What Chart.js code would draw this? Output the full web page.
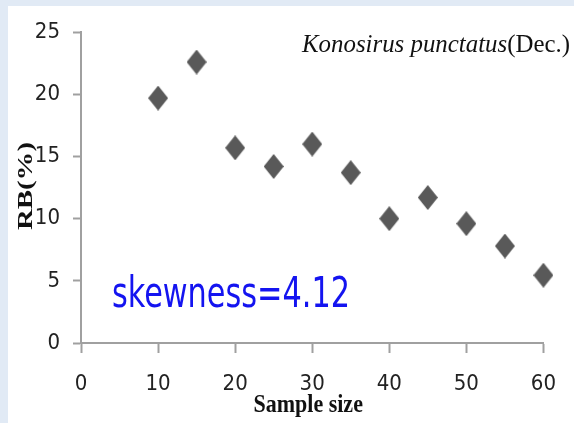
<!DOCTYPE html>
<html>
<head>
<meta charset="utf-8">
<title>RB vs sample size</title>
<script src="https://cdn.jsdelivr.net/npm/chart.js@4.4.0/dist/chart.umd.min.js"></script>
<style>
  html, body {
    margin: 0;
    padding: 0;
    background: #e1eaf5;
    overflow: hidden;
  }
  .panel {
    position: absolute;
    left: 8px;
    top: 6px;
    width: 566px;
    height: 417px;
    background: #fff;
  }
</style>
</head>
<body>
<div class="panel">
  <canvas id="rbChart" width="566" height="417"></canvas>
</div>
<script>
// Relative bias by sample size
const sampleSizes = [10, 15, 20, 25, 30, 35, 40, 45, 50, 55, 60];
const rbValues = [19.7, 22.6, 15.7, 14.2, 16.0, 13.7, 10.0, 11.7, 9.6, 7.8, 5.45];
const xTicks = [0, 10, 20, 30, 40, 50, 60];
const yTicks = [0, 5, 10, 15, 20, 25];

const speciesName = 'Konosirus punctatus';
const monthNote = '(Dec.)';
const skewLabel = 'skewness=4.12';

const axisColor = '#a0a0a0';
const tickFont = '"Liberation Sans Narrow", "DejaVu Sans Condensed", sans-serif';
const serifFont = '"Liberation Serif", "Times New Roman", serif';

// Tall diamond marker
function makeDiamond(w, h, color) {
  const c = document.createElement('canvas');
  c.width = w;
  c.height = h;
  const g = c.getContext('2d');
  g.fillStyle = color;
  g.beginPath();
  g.moveTo(w / 2, 0);
  g.lineTo(w, h / 2);
  g.lineTo(w / 2, h);
  g.lineTo(0, h / 2);
  g.closePath();
  g.fill();
  return c;
}
const diamond = makeDiamond(20, 25, '#595959');

// Text drawn squeezed/stretched to a given width
function fitText(ctx, text, x, y, width) {
  const w = ctx.measureText(text).width;
  ctx.save();
  ctx.translate(x, y);
  ctx.scale(width / w, 1);
  ctx.fillText(text, 0, 0);
  ctx.restore();
}

const labelsPlugin = {
  id: 'labels',
  afterDraw(chart) {
    const ctx = chart.ctx;
    const area = chart.chartArea;
    ctx.save();
    ctx.textBaseline = 'alphabetic';
    ctx.textAlign = 'left';

    // species + month heading
    ctx.fillStyle = '#111';
    ctx.font = 'italic 25px ' + serifFont;
    const w1 = ctx.measureText(speciesName).width;
    ctx.font = '25px ' + serifFont;
    const w2 = ctx.measureText(monthNote).width;
    const s = 268 / (w1 + w2);
    ctx.translate(294, 46);
    ctx.scale(s, 1);
    ctx.font = 'italic 25px ' + serifFont;
    ctx.fillText(speciesName, 0, 0);
    ctx.font = '25px ' + serifFont;
    ctx.fillText(monthNote, w1, 0);
    ctx.restore();

    // skewness note
    ctx.save();
    ctx.fillStyle = '#1414f0';
    ctx.font = '43px ' + tickFont;
    fitText(ctx, skewLabel, 104, 301, 238);
    ctx.restore();

    // x axis title
    ctx.save();
    ctx.fillStyle = '#111';
    ctx.font = 'bold 22px ' + serifFont;
    ctx.textAlign = 'center';
    ctx.translate((area.left + area.right) / 2 - 4, 406);
    ctx.scale(1, 1.1);
    ctx.fillText('Sample size', 0, 0);
    ctx.restore();

    // y axis title, rotated and stretched
    ctx.save();
    ctx.fillStyle = '#111';
    ctx.font = 'bold 22px ' + serifFont;
    ctx.textAlign = 'center';
    ctx.textBaseline = 'middle';
    ctx.translate(18, 180);
    ctx.rotate(-Math.PI / 2);
    const rw = ctx.measureText('RB(%)').width;
    ctx.scale(88 / rw, 1);
    ctx.fillText('RB(%)', 0, 0);
    ctx.restore();
  },
};

const ctx = document.getElementById('rbChart');
const rbChart = new Chart(ctx, {
  type: 'scatter',
  data: {
    datasets: [
      {
        label: 'RB',
        data: sampleSizes.map((x, i) => ({ x: x, y: rbValues[i] })),
        pointStyle: diamond,
        pointRadius: 10,
        clip: false,
      },
    ],
  },
  options: {
    responsive: false,
    animation: false,
    layout: {
      padding: { top: 25, right: 30, left: 0, bottom: 0 },
    },
    plugins: {
      legend: { display: false },
      tooltip: { enabled: false },
    },
    scales: {
      x: {
        type: 'linear',
        min: 0,
        max: 60,
        afterBuildTicks: (scale) => {
          scale.ticks = xTicks.map((v) => ({ value: v }));
        },
        afterFit: (scale) => {
          scale.height = 80;
        },
        ticks: {
          color: '#222',
          padding: 18,
          font: { family: tickFont, size: 22 },
        },
        grid: {
          drawOnChartArea: false,
          drawTicks: true,
          tickLength: 10,
          tickColor: axisColor,
          tickWidth: 2,
        },
        border: { color: axisColor, width: 2 },
      },
      y: {
        min: 0,
        max: 25,
        afterBuildTicks: (scale) => {
          scale.ticks = yTicks.map((v) => ({ value: v }));
        },
        afterFit: (scale) => {
          scale.width = 73;
        },
        ticks: {
          color: '#222',
          padding: 13,
          font: { family: tickFont, size: 22 },
        },
        grid: {
          drawOnChartArea: false,
          drawTicks: true,
          tickLength: 8,
          tickColor: axisColor,
          tickWidth: 2,
        },
        border: { color: axisColor, width: 2 },
      },
    },
  },
  plugins: [labelsPlugin],
});
</script>
</body>
</html>
